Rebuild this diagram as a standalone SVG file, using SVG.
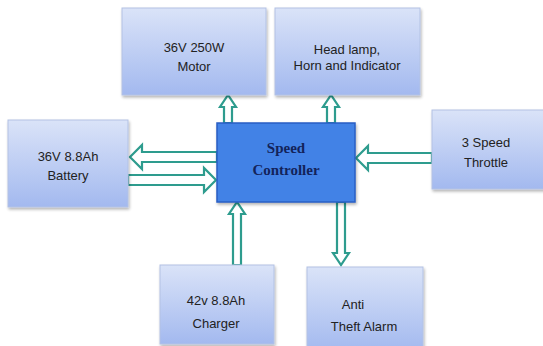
<svg xmlns="http://www.w3.org/2000/svg" width="543" height="346" viewBox="0 0 543 346">
<defs>
<linearGradient id="boxg" x1="0" y1="0" x2="0" y2="1">
<stop offset="0" stop-color="#dae3f8"/>
<stop offset="1" stop-color="#a3b9ef"/>
</linearGradient>
<filter id="sh" x="-10%" y="-10%" width="130%" height="130%">
<feGaussianBlur in="SourceAlpha" stdDeviation="1.5"/>
<feOffset dx="1" dy="2" result="b"/>
<feComponentTransfer><feFuncA type="linear" slope="0.3"/></feComponentTransfer>
<feMerge><feMergeNode/><feMergeNode in="SourceGraphic"/></feMerge>
</filter>
</defs>
<style>
.box{fill:url(#boxg);stroke:#b3c2e4;stroke-width:1;filter:url(#sh)}
.ctrl{fill:#4282e6;stroke:#2a5ec4;stroke-width:1.5;filter:url(#sh)}
.t{font-family:"Liberation Sans",Arial,sans-serif;font-size:13px;fill:#222222;text-anchor:middle}
.ct{font-family:"Liberation Serif","Times New Roman",serif;font-size:15px;font-weight:bold;fill:#13235a;text-anchor:middle}
.arr{fill:#ffffff;stroke:#2e9c8e;stroke-width:2.2;stroke-linejoin:miter}
</style>
<rect width="543" height="346" fill="#ffffff"/>
<g id="connectors">
<path class="arr" d="M224 123 V107 H220 L228 95 L236 107 H232 V123 Z"/>
<path class="arr" d="M327 123 V107 H323 L331 95 L339 107 H335 V123 Z"/>
<path class="arr" d="M432 153 H368 V146 L356 158 L368 170 V163 H432 Z"/>
<path class="arr" d="M217 152 H142 V145 L130 157 L142 169 V162 H217 Z"/>
<path class="arr" d="M128 175 H204 V168 L216 180 L204 192 V185 H128 Z"/>
<path class="arr" d="M233 265 V214 H229 L237 202 L245 214 H241 V265 Z"/>
<path class="arr" d="M337 202 V253 H333 L341 265 L349 253 H345 V202 Z"/>
</g>
<g id="motor">
<rect class="box" x="122" y="8" width="144" height="87"/>
<text class="t" x="194" y="52">36V 250W</text>
<text class="t" x="194" y="71">Motor</text>
</g>
<g id="headlamp">
<rect class="box" x="275" y="8" width="145" height="87"/>
<text class="t" x="347" y="54">Head lamp,</text>
<text class="t" x="347" y="70">Horn and Indicator</text>
</g>
<g id="battery">
<rect class="box" x="8" y="120" width="120" height="87"/>
<text class="t" x="68" y="161">36V 8.8Ah</text>
<text class="t" x="68" y="180">Battery</text>
</g>
<g id="controller">
<rect class="ctrl" x="217" y="123" width="138" height="79"/>
<text class="ct" x="286" y="153">Speed</text>
<text class="ct" x="286" y="175">Controller</text>
</g>
<g id="throttle">
<rect class="box" x="432" y="110" width="116" height="79"/>
<text class="t" x="486" y="147">3 Speed</text>
<text class="t" x="486" y="167">Throttle</text>
</g>
<g id="charger">
<rect class="box" x="160" y="265" width="114" height="79"/>
<text class="t" x="216" y="305">42v 8.8Ah</text>
<text class="t" x="216" y="328">Charger</text>
</g>
<g id="alarm">
<rect class="box" x="307" y="267" width="116" height="84"/>
<text class="t" x="353" y="309">Anti</text>
<text class="t" x="364" y="331">Theft Alarm</text>
</g>
</svg>
